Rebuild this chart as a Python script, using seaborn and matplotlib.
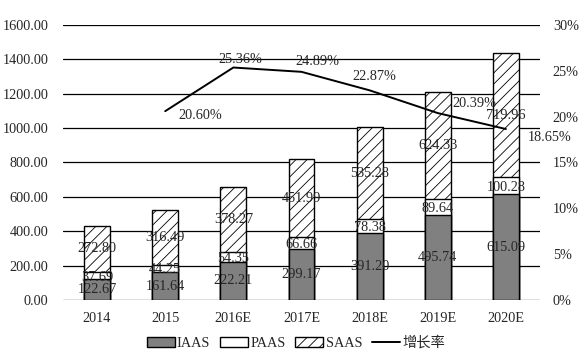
import numpy as np
import pandas as pd
import matplotlib
matplotlib.use("Agg")
import matplotlib.pyplot as plt
import seaborn as sns
from matplotlib.patches import Patch
from matplotlib.lines import Line2D

years = ["2014", "2015", "2016E", "2017E", "2018E", "2019E", "2020E"]
iaas = [122.67, 161.64, 222.21, 299.17, 391.20, 495.74, 615.09]
paas = [37.69, 44.25, 54.35, 66.66, 78.38, 89.64, 100.28]
saas = [272.80, 316.49, 378.27, 451.99, 535.28, 624.33, 719.96]
growth_years = ["2015", "2016E", "2017E", "2018E", "2019E", "2020E"]
growth = [20.60, 25.36, 24.89, 22.87, 20.39, 18.65]

sns.set_style("white")
plt.rcParams["font.family"] = ["Liberation Serif", "Noto Sans CJK SC"]
plt.rcParams["hatch.linewidth"] = 0.6
FS = 10.3

df = pd.DataFrame({"year": years, "IAAS": iaas, "PAAS": paas, "SAAS": saas})
df["low"] = df["IAAS"]
df["mid"] = df["IAAS"] + df["PAAS"]
df["top"] = df["mid"] + df["SAAS"]

fig, ax = plt.subplots(figsize=(5.8, 3.55), dpi=100)
fig.subplots_adjust(left=0.1086, right=0.931, top=0.9296, bottom=0.155)

w = 0.38
sns.barplot(data=df, x="year", y="top", color="white", edgecolor="black",
            linewidth=1, hatch="///", width=w, ax=ax, zorder=3)
sns.barplot(data=df, x="year", y="mid", color="white", edgecolor="black",
            linewidth=1, width=w, ax=ax, zorder=3)
sns.barplot(data=df, x="year", y="low", color="#808080", edgecolor="black",
            linewidth=1, width=w, ax=ax, zorder=3)
for p in ax.patches:
    if p.get_facecolor()[0] > 0.9:
        p.set_facecolor("white")

# segment labels, centred in each piece of the stack
for i, r in df.iterrows():
    ax.text(i, r["IAAS"] / 2, f"{r['IAAS']:.2f}", ha="center", va="center",
            fontsize=FS, zorder=5)
    ax.text(i, r["low"] + r["PAAS"] / 2, f"{r['PAAS']:.2f}", ha="center",
            va="center_baseline", fontsize=FS, zorder=5)
    ax.text(i, r["mid"] + r["SAAS"] / 2, f"{r['SAAS']:.2f}", ha="center",
            va="center", fontsize=FS, zorder=5)

ax.set_ylim(0, 1600)
ax.set_yticks(np.arange(0, 1601, 200))
ax.set_yticklabels([f"{v:.2f}" for v in np.arange(0, 1601, 200)])
ax.set_xlim(-0.5, 6.5)
ax.set_xlabel("")
ax.set_ylabel("")
ax.yaxis.grid(True, color="black", linewidth=0.9)
ax.set_axisbelow(True)
ax.tick_params(axis="y", length=0, labelsize=FS, pad=10.5)
ax.tick_params(axis="x", length=0, labelsize=FS, pad=8.5)
sns.despine(ax=ax, left=True, right=True, top=True, bottom=True)

ax2 = ax.twinx()
gx = [years.index(y) for y in growth_years]
sns.lineplot(x=gx, y=growth, color="black", linewidth=1.4, ax=ax2)
ax2.set_ylim(0, 30)
ax2.set_yticks(np.arange(0, 31, 5))
ax2.set_yticklabels([f"{v}%" for v in range(0, 31, 5)])
ax2.tick_params(axis="y", length=0, labelsize=FS, pad=9.2)
sns.despine(ax=ax2, left=True, right=True, top=True, bottom=True)

offsets = [(35, -4), (7, 8), (16, 10), (5, 14), (37, 10), (44, -8)]
for x, g, off in zip(gx, growth, offsets):
    ax2.annotate(f"{g:.2f}%", (x, g), xytext=off, textcoords="offset pixels",
                 ha="center", va="center", fontsize=FS)

handles = [Patch(facecolor="#808080", edgecolor="black", label="IAAS"),
           Patch(facecolor="white", edgecolor="black", label="PAAS"),
           Patch(facecolor="white", edgecolor="black", hatch="///", label="SAAS"),
           Line2D([], [], color="black", linewidth=1.4, label="增长率")]
fig.legend(handles=handles, loc="center", bbox_to_anchor=(0.51, 12 / 355),
           ncol=4, frameon=False, fontsize=FS, handlelength=1.95,
           handleheight=0.7, handletextpad=0.15, columnspacing=0.7,
           borderpad=0)

fig.savefig("out.png", dpi=100)
